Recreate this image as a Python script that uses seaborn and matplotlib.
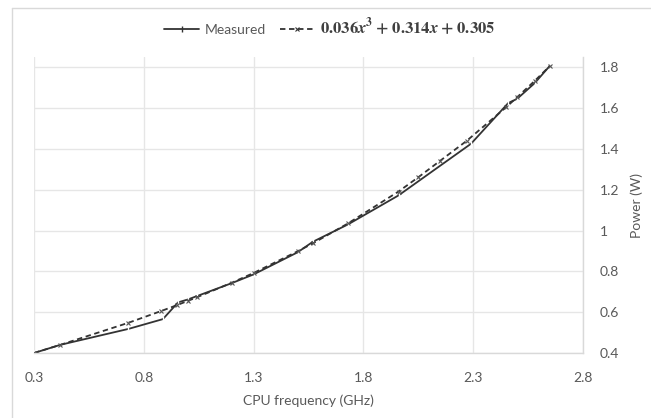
import matplotlib
matplotlib.use("Agg")
import matplotlib.pyplot as plt
import seaborn as sns
import pandas as pd
from matplotlib.lines import Line2D

freq_measured = [0.30, 0.42, 0.73, 0.887, 0.956, 1.00, 1.04, 1.20, 1.30, 1.50, 1.57, 1.73, 1.96, 2.29, 2.46, 2.50, 2.58, 2.65]
power_measured = [0.400, 0.440, 0.518, 0.566, 0.648, 0.662, 0.678, 0.742, 0.785, 0.893, 0.945, 1.030, 1.172, 1.425, 1.625, 1.645, 1.722, 1.808]

freq_fit = [0.30, 0.42, 0.73, 0.88, 0.95, 1.00, 1.04, 1.20, 1.30, 1.50, 1.57, 1.73, 1.96, 2.05, 2.15, 2.27, 2.45, 2.50, 2.58, 2.65]
power_fit = [0.400, 0.440, 0.548, 0.606, 0.634, 0.655, 0.672, 0.744, 0.792, 0.898, 0.937, 1.035, 1.191, 1.261, 1.342, 1.439, 1.604, 1.653, 1.733, 1.807]

x_ticks = [0.3, 0.8, 1.3, 1.8, 2.3, 2.8]
x_tick_labels = ["0.3", "0.8", "1.3", "1.8", "2.3", "2.8"]
y_ticks = [0.4, 0.6, 0.8, 1.0, 1.2, 1.4, 1.6, 1.8]
y_tick_labels = ["0.4", "0.6", "0.8", "1", "1.2", "1.4", "1.6", "1.8"]

label_measured = "Measured"
label_fit = (r"$\mathbf{0.036}\boldsymbol{x}^\mathbf{3}\;\mathbf{+}\;\mathbf{0.314}\boldsymbol{x}"
             r"\;\mathbf{+}\;\mathbf{0.305}$")

sns.set_style("white")
plt.rcParams["font.family"] = ["Lato", "DejaVu Sans"]
plt.rcParams["mathtext.fontset"] = "stix"

fig = plt.figure(figsize=(6.51, 4.18), dpi=100)
W, H = 651, 418
ax = fig.add_axes([34 / W, 1 - 353 / H, (583 - 34) / W, (353 - 57) / H])

df_m = pd.DataFrame({"f": freq_measured, "p": power_measured})
df_f = pd.DataFrame({"f": freq_fit, "p": power_fit})

sns.lineplot(data=df_m, x="f", y="p", ax=ax, color="#333333", linewidth=1.3,
             marker="|", markersize=4, markeredgewidth=1.0, sort=False)
sns.lineplot(data=df_f, x="f", y="p", ax=ax, color="#333333", linewidth=1.3,
             linestyle=(0, (3, 2)), marker="x", markersize=3.5, markeredgewidth=0.8,
             markeredgecolor="#555555", sort=False)

ax.set_xlim(0.3, 2.8)
ax.set_ylim(0.4, 1.85)
ax.set_xticks(x_ticks)
ax.set_xticklabels(x_tick_labels)
ax.set_yticks(y_ticks)
ax.set_yticklabels(y_tick_labels)
ax.yaxis.tick_right()
ax.yaxis.set_label_position("right")
ax.grid(True, color="#e6e6e6", linewidth=1.0)
ax.set_axisbelow(True)
for s in ["top", "left"]:
    ax.spines[s].set_visible(False)
for s in ["right", "bottom"]:
    ax.spines[s].set_color("#d9d9d9")
    ax.spines[s].set_linewidth(1.0)
ax.tick_params(axis="both", length=0, labelsize=10, labelcolor="#595959")
ax.tick_params(axis="x", pad=14)
ax.tick_params(axis="y", pad=12)
ax.set_xlabel("CPU frequency (GHz)", fontsize=10, color="#595959", labelpad=7)
ax.set_ylabel("Power (W)", fontsize=10, color="#595959", labelpad=8)

handles = [
    Line2D([], [], color="#333333", linewidth=1.3, marker="|", markersize=4),
    Line2D([], [], color="#333333", linewidth=1.3, linestyle=(0, (3, 2)), marker="x", markersize=3.5, markeredgewidth=0.8),
]
leg = fig.legend(handles, [label_measured, label_fit], loc="center", bbox_to_anchor=(330 / W, 1 - 27 / H),
                 ncol=2, frameon=False, fontsize=10, handlelength=2.5, columnspacing=1.0, handletextpad=0.4)
leg.get_texts()[0].set_color("#595959")
leg.get_texts()[1].set_color("#404040")
leg.get_texts()[1].set_fontsize(12)

# chart border
fig.add_artist(Line2D([12 / W, 12 / W], [0, 1 - 8 / H], transform=fig.transFigure, color="#d9d9d9", linewidth=1.0))
fig.add_artist(Line2D([12 / W, 1], [1 - 8 / H, 1 - 8 / H], transform=fig.transFigure, color="#d9d9d9", linewidth=1.0))

fig.savefig("out.png", dpi=100)
